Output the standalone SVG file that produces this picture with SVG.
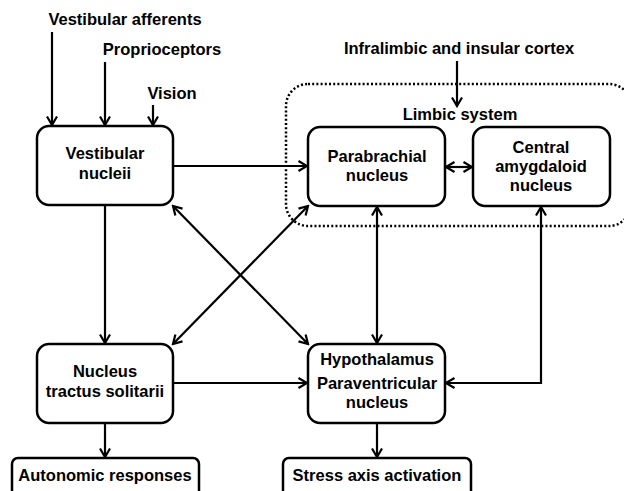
<svg xmlns="http://www.w3.org/2000/svg" width="624" height="491" viewBox="0 0 624 491">
<defs>
<style>
text{font-family:"Liberation Sans",Arial,sans-serif;font-weight:bold;font-size:16.5px;fill:#000;text-anchor:middle}
.box{fill:#fff;stroke:#000;stroke-width:2.5}
.ln{fill:none;stroke:#000;stroke-width:2.2}
.dot{fill:none;stroke:#000;stroke-width:2.5;stroke-dasharray:2 2.2}
</style>
<marker id="ah" viewBox="0 0 12 12" refX="10.5" refY="6" markerWidth="12" markerHeight="12" markerUnits="userSpaceOnUse" orient="auto-start-reverse">
<path d="M2,1 L10.5,6 L2,11" fill="none" stroke="#000" stroke-width="2.2"/>
</marker>
</defs>
<rect width="624" height="491" fill="#fff"/>
<g id="limbic">
<rect class="dot" x="286" y="84" width="345" height="142" rx="22"/>
<text x="460" y="120">Limbic system</text>
</g>
<g id="labels">
<text x="125" y="25">Vestibular afferents</text>
<text x="162" y="55">Proprioceptors</text>
<text x="172" y="99">Vision</text>
<text x="459" y="54">Infralimbic and insular cortex</text>
</g>
<g id="connectors">
<line class="ln" x1="52" y1="32" x2="52" y2="125" marker-end="url(#ah)"/>
<line class="ln" x1="105" y1="62" x2="105" y2="125" marker-end="url(#ah)"/>
<line class="ln" x1="153" y1="105" x2="153" y2="125" marker-end="url(#ah)"/>
<line class="ln" x1="457" y1="61" x2="457" y2="106" marker-end="url(#ah)"/>
<line class="ln" x1="173" y1="166" x2="307" y2="166" marker-end="url(#ah)"/>
<line class="ln" x1="446" y1="167" x2="472" y2="167" marker-start="url(#ah)" marker-end="url(#ah)"/>
<line class="ln" x1="105" y1="205" x2="105" y2="343" marker-end="url(#ah)"/>
<line class="ln" x1="173" y1="206" x2="308" y2="344" marker-start="url(#ah)" marker-end="url(#ah)"/>
<line class="ln" x1="308" y1="206" x2="173" y2="344" marker-start="url(#ah)" marker-end="url(#ah)"/>
<line class="ln" x1="377" y1="207" x2="377" y2="343" marker-start="url(#ah)" marker-end="url(#ah)"/>
<line class="ln" x1="173" y1="383" x2="307" y2="383" marker-end="url(#ah)"/>
<polyline class="ln" points="541,207 541,383 446,383" marker-start="url(#ah)" marker-end="url(#ah)"/>
<line class="ln" x1="105" y1="423" x2="105" y2="457" marker-end="url(#ah)"/>
<line class="ln" x1="377" y1="423" x2="377" y2="457" marker-end="url(#ah)"/>
</g>
<g id="vestibular-nuclei">
<rect class="box" x="37" y="126" width="136" height="79" rx="12"/>
<text x="105" y="159">Vestibular</text>
<text x="105" y="179">nucleii</text>
</g>
<g id="parabrachial">
<rect class="box" x="308" y="127" width="137" height="79" rx="12"/>
<text x="377" y="162">Parabrachial</text>
<text x="377" y="181">nucleus</text>
</g>
<g id="central-amygdaloid">
<rect class="box" x="473" y="127" width="137" height="79" rx="12"/>
<text x="541" y="153">Central</text>
<text x="541" y="172">amygdaloid</text>
<text x="541" y="191">nucleus</text>
</g>
<g id="nts">
<rect class="box" x="37" y="344" width="136" height="79" rx="12"/>
<text x="105" y="377">Nucleus</text>
<text x="105" y="397">tractus solitarii</text>
</g>
<g id="hypothalamus">
<rect class="box" x="308" y="344" width="137" height="79" rx="12"/>
<text x="377" y="365">Hypothalamus</text>
<text x="377" y="389">Paraventricular</text>
<text x="377" y="408">nucleus</text>
</g>
<g id="autonomic">
<rect class="box" x="12" y="458" width="187" height="40" rx="6"/>
<text x="105" y="481">Autonomic responses</text>
</g>
<g id="stress">
<rect class="box" x="283" y="458" width="188" height="40" rx="6"/>
<text x="377" y="481">Stress axis activation</text>
</g>
</svg>
